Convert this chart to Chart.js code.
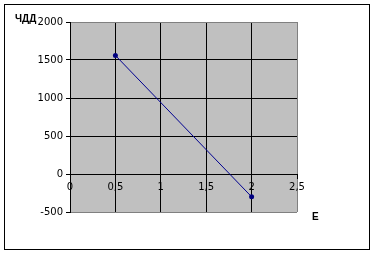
<!DOCTYPE html>
<html>
<head>
<meta charset="utf-8">
<script src="https://cdn.jsdelivr.net/npm/chart.js"></script>
<style>
html, body { margin: 0; padding: 0; background: #fff; }
</style>
</head>
<body>
<canvas id="grafico" width="375" height="255"></canvas>
<script>
// dados
let valoresE = [0.5, 2];
let valoresChdd = [1560, -300];
let ticksX = [0, 0.5, 1, 1.5, 2, 2.5];
let ticksY = [-500, 0, 500, 1000, 1500, 2000];
let tituloY = 'ЧДД';
let tituloX = 'E';

let fonte = { family: 'DejaVu Sans', size: 10 };

// fundo cinza da area do grafico + moldura externa + titulos
let enfeites = {
    id: 'enfeites',
    beforeDraw(chart) {
        let a = chart.chartArea;
        let ctx = chart.ctx;
        ctx.save();
        ctx.fillStyle = '#fff';
        ctx.fillRect(0, 0, chart.width, chart.height);
        ctx.fillStyle = '#c0c0c0';
        ctx.fillRect(a.left, a.top, a.right - a.left, a.bottom - a.top);
        ctx.restore();
    },
    afterDraw(chart) {
        let ctx = chart.ctx;
        ctx.save();
        ctx.strokeStyle = '#000';
        ctx.lineWidth = 1;
        ctx.strokeRect(4.5, 4.5, 365, 245);
        ctx.fillStyle = '#000';
        ctx.font = 'bold 10px "Liberation Sans"';
        ctx.textBaseline = 'middle';
        ctx.textAlign = 'left';
        ctx.fillText(tituloY, 15, 19);
        ctx.fillText(tituloX, 312, 217);
        ctx.restore();
    }
};

let chart = new Chart(document.getElementById('grafico').getContext('2d'), {
    type: 'scatter',
    data: {
        datasets: [
            {
                label: tituloY,
                data: valoresE.map((e, i) => ({ x: e, y: valoresChdd[i] })),
                showLine: true,
                borderColor: '#000090',
                backgroundColor: '#000080',
                borderWidth: 1,
                pointStyle: 'circle',
                pointRadius: 2.5,
                pointBorderWidth: 0,
            }
        ]
    },
    options: {
        responsive: false,
        animation: false,
        devicePixelRatio: 1,
        layout: { padding: { left: 0, right: 78, top: 22, bottom: 43 } },
        plugins: {
            legend: { display: false },
            tooltip: { enabled: false }
        },
        scales: {
            x: {
                type: 'linear',
                min: 0,
                max: 2.5,
                position: { y: 0 },
                afterBuildTicks(scale) {
                    scale.ticks = ticksX.map(v => ({ value: v }));
                },
                ticks: {
                    color: '#000',
                    font: fonte,
                    padding: 3,
                    maxRotation: 0,
                    callback: v => String(v).replace('.', ',')
                },
                grid: {
                    color: ctx => (ctx.tick && ctx.tick.value === 2.5) ? '#808080' : '#000',
                    tickColor: '#000',
                    tickLength: 4,
                    lineWidth: 1
                },
                border: { color: '#000', width: 1 }
            },
            y: {
                min: -500,
                max: 2000,
                afterBuildTicks(scale) {
                    scale.ticks = ticksY.map(v => ({ value: v }));
                },
                afterFit(scale) {
                    scale.width = 70;
                },
                ticks: {
                    color: '#000',
                    font: fonte,
                    padding: 3,
                    callback: v => String(v)
                },
                grid: {
                    color: ctx => (ctx.tick && (ctx.tick.value === -500 || ctx.tick.value === 2000)) ? '#808080' : '#000',
                    tickColor: '#000',
                    tickLength: 4,
                    lineWidth: 1
                },
                border: { color: '#000', width: 1 }
            }
        }
    },
    plugins: [enfeites]
});
</script>
</body>
</html>
